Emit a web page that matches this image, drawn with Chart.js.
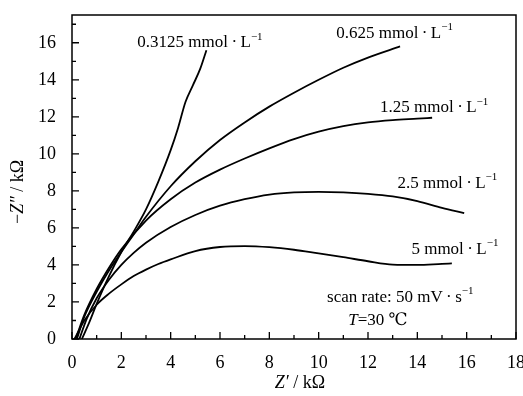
<!DOCTYPE html>
<html>
<head>
<meta charset="utf-8">
<script src="https://cdn.jsdelivr.net/npm/chart.js@4.4.0/dist/chart.umd.min.js"></script>
<style>
  html, body { margin: 0; padding: 0; background: #fff; }
  #wrap { width: 523px; height: 396px; }
</style>
</head>
<body>
<div id="wrap"><canvas id="grafico"></canvas></div>
<script>
  // tick values
  const xTicks = [0, 2, 4, 6, 8, 10, 12, 14, 16, 18];
  const yTicks = [0, 2, 4, 6, 8, 10, 12, 14, 16];

  // concentrations (mmol/L)
  const concentracoes = ['0.3125', '0.625', '1.25', '2.5', '5'];

  // Z' (kOhm) and -Z'' (kOhm)
  const x0312 = [0.4, 0.7, 1.0, 1.5, 2.0, 2.5, 3.0, 3.5, 4.0, 4.3, 4.6, 4.9, 5.2, 5.45];
  const y0312 = [0, 0.9, 1.9, 3.4, 4.7, 5.8, 7.0, 8.5, 10.2, 11.4, 12.8, 13.7, 14.6, 15.6];

  const x0625 = [0.2, 0.5, 1.0, 1.5, 2.0, 2.5, 3.0, 4.0, 5.0, 6.0, 7.0, 8.0, 9.0, 10.0, 11.0, 12.0, 13.3];
  const y0625 = [0, 1.2, 2.55, 3.7, 4.7, 5.65, 6.6, 8.25, 9.6, 10.75, 11.7, 12.55, 13.3, 14.0, 14.65, 15.2, 15.8];

  const x125 = [0.15, 0.5, 1.0, 1.5, 2.0, 3.0, 4.0, 5.0, 6.0, 7.0, 8.0, 9.0, 10.0, 11.0, 12.0, 13.0, 14.0, 14.6];
  const y125 = [0, 1.3, 2.7, 3.85, 4.85, 6.4, 7.55, 8.45, 9.15, 9.75, 10.3, 10.8, 11.2, 11.5, 11.7, 11.82, 11.9, 11.95];

  const x25 = [0.3, 0.6, 1.0, 1.5, 2.0, 2.5, 3.0, 4.0, 5.0, 6.0, 7.0, 8.0, 9.0, 10.0, 11.0, 12.0, 13.0, 14.0, 15.0, 15.9];
  const y25 = [0, 1.1, 2.2, 3.2, 4.0, 4.65, 5.2, 6.05, 6.7, 7.2, 7.55, 7.8, 7.92, 7.95, 7.92, 7.84, 7.7, 7.45, 7.08, 6.8];

  const x5 = [0.1, 0.5, 1.0, 1.5, 2.0, 2.5, 3.0, 3.5, 4.0, 5.0, 6.0, 7.0, 8.0, 9.0, 10.0, 11.0, 12.0, 13.0, 14.0, 15.0, 15.4];
  const y5 = [0, 1.0, 1.85, 2.45, 2.95, 3.4, 3.75, 4.05, 4.3, 4.75, 4.97, 5.02, 4.96, 4.82, 4.62, 4.42, 4.2, 4.02, 4.0, 4.06, 4.08];

  const seriesX = [x0312, x0625, x125, x25, x5];
  const seriesY = [y0312, y0625, y125, y25, y5];

  // where the curve labels sit (data units, left edge / middle)
  const labelPos = [[2.65, 16.0], [10.71, 16.5], [12.49, 12.5], [13.2, 8.4], [13.76, 4.85]];

  const FONT = '"Liberation Serif", "DejaVu Serif", serif';

  function rich(ctx, parts, x, y, size, align) {
    let w = 0;
    parts.forEach(p => {
      ctx.font = (p.i ? 'italic ' : '') + (p.sup ? Math.round(size * 0.62) : size) + 'px ' + FONT;
      p.w = ctx.measureText(p.t).width;
      w += p.w;
    });
    let cx = align === 'center' ? x - w / 2 : x;
    parts.forEach(p => {
      ctx.font = (p.i ? 'italic ' : '') + (p.sup ? Math.round(size * 0.62) : size) + 'px ' + FONT;
      ctx.fillText(p.t, cx, y + (p.sup ? -size * 0.35 : 0));
      cx += p.w;
    });
  }

  const moldura = {
    id: 'moldura',
    afterDraw(chart) {
      const ctx = chart.ctx;
      const a = chart.chartArea;
      const sx = chart.scales.x;
      const sy = chart.scales.y;
      ctx.save();
      ctx.strokeStyle = '#000';
      ctx.fillStyle = '#000';
      ctx.lineWidth = 1.5;
      ctx.strokeRect(a.left, a.top, a.right - a.left, a.bottom - a.top);

      // inward ticks
      ctx.lineWidth = 1.3;
      ctx.beginPath();
      for (let v = 0; v <= 18; v++) {
        const px = sx.getPixelForValue(v);
        const len = v % 2 === 0 ? 7 : 4;
        ctx.moveTo(px, a.bottom);
        ctx.lineTo(px, a.bottom - len);
      }
      for (let v = 0; v <= 17; v++) {
        const py = sy.getPixelForValue(v);
        const len = v % 2 === 0 ? 7 : 4;
        ctx.moveTo(a.left, py);
        ctx.lineTo(a.left + len, py);
      }
      ctx.stroke();

      // curve labels
      ctx.textBaseline = 'middle';
      ctx.textAlign = 'left';
      concentracoes.forEach((c, i) => {
        const px = sx.getPixelForValue(labelPos[i][0]);
        const py = sy.getPixelForValue(labelPos[i][1]);
        rich(ctx, [{ t: c + ' mmol\u2009\u00b7\u2009L' }, { t: '\u22121', sup: true }], px, py, 17, 'left');
      });

      // conditions
      rich(ctx, [{ t: 'scan rate: 50 mV\u2009\u00b7\u2009s' }, { t: '\u22121', sup: true }],
        sx.getPixelForValue(10.34), sy.getPixelForValue(2.26), 17, 'left');
      rich(ctx, [{ t: 'T', i: true }, { t: '=30 \u2103' }],
        sx.getPixelForValue(11.2), sy.getPixelForValue(1.0), 17, 'left');

      // axis titles
      rich(ctx, [{ t: 'Z\u2032', i: true }, { t: ' / k\u03a9' }], 300, 383, 18, 'center');
      ctx.translate(18, 192);
      ctx.rotate(-Math.PI / 2);
      rich(ctx, [{ t: '\u2212' }, { t: 'Z\u2033', i: true }, { t: ' / k\u03a9' }], 0, 0, 18, 'center');
      ctx.restore();
    }
  };

  const datasets = concentracoes.map((c, i) => ({
    label: c + ' mmol/L',
    data: seriesX[i].map((x, j) => ({ x: x, y: seriesY[i][j] })),
    showLine: true,
    borderColor: '#000',
    backgroundColor: '#000',
    borderWidth: 1.8,
    pointRadius: 0,
    cubicInterpolationMode: 'monotone'
  }));

  const grafico = document.getElementById('grafico').getContext('2d');
  const chartGrafico = new Chart(grafico, {
    type: 'scatter',
    data: { datasets: datasets },
    options: {
      responsive: true,
      maintainAspectRatio: false,
      animation: false,
      devicePixelRatio: 1,
      layout: { padding: { top: 15, right: 7, left: 0, bottom: 0 } },
      plugins: { legend: { display: false }, tooltip: { enabled: false } },
      scales: {
        x: {
          type: 'linear',
          min: 0,
          max: 18,
          afterBuildTicks: (s) => { s.ticks = xTicks.map(v => ({ value: v })); },
          afterFit: (s) => { s.height = 57; s.paddingLeft = 0; s.paddingRight = 0; },
          ticks: { color: '#000', padding: 5, font: { family: FONT, size: 18 }, maxRotation: 0 },
          grid: { display: false },
          border: { display: false }
        },
        y: {
          type: 'linear',
          min: 0,
          max: 17.5,
          afterBuildTicks: (s) => { s.ticks = yTicks.map(v => ({ value: v })); },
          afterFit: (s) => { s.width = 72; s.paddingTop = 0; s.paddingBottom = 0; },
          ticks: { color: '#000', padding: 8, font: { family: FONT, size: 18 } },
          grid: { display: false },
          border: { display: false }
        }
      }
    },
    plugins: [moldura]
  });
</script>
</body>
</html>
